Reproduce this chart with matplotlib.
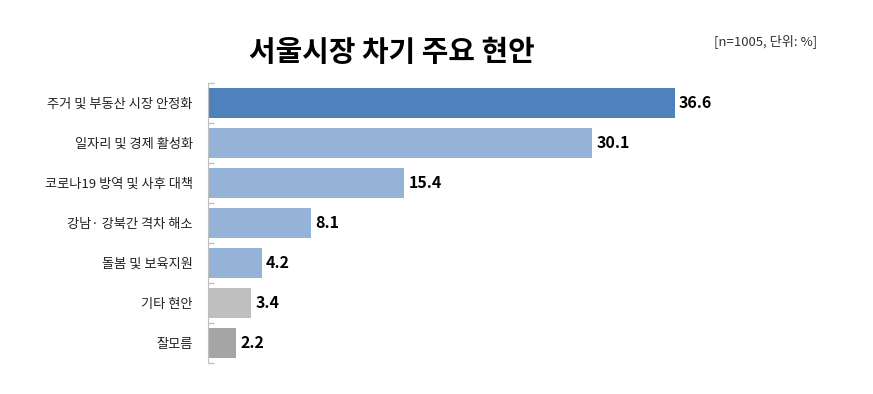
import matplotlib
matplotlib.use("Agg")
import matplotlib.pyplot as plt

plt.rcParams['font.family'] = ['Noto Sans CJK KR', 'DejaVu Sans']

categories = ["주거 및 부동산 시장 안정화", "일자리 및 경제 활성화", "코로나19 방역 및 사후 대책",
              "강남· 강북간 격차 해소", "돌봄 및 보육지원", "기타 현안", "잘모름"]
values = [36.6, 30.1, 15.4, 8.1, 4.2, 3.4, 2.2]
colors = ["#4F81BD", "#95B3D7", "#95B3D7", "#95B3D7", "#95B3D7", "#BFBFBF", "#A5A5A5"]

fig = plt.figure(figsize=(8.73, 3.94), dpi=100)
ax = fig.add_axes([208/873, 31/394, 510/873, 280/394])

y = list(range(len(categories)))
ax.barh(y, values, height=0.75, color=colors)
ax.set_ylim(len(categories) - 0.5, -0.5)
ax.set_xlim(0, 40)

for yi, v in zip(y, values):
    ax.text(v + 0.35, yi, f"{v}", va='center', ha='left', fontsize=11.5, fontweight='bold', color='black')

ax.set_yticks(y)
ax.set_yticklabels(categories, fontsize=9.5, color='#222222')
ax.tick_params(axis='y', which='major', length=0, pad=11)
ax.set_yticks([i - 0.5 for i in range(len(categories) + 1)], minor=True)
ax.tick_params(axis='y', which='minor', length=4, direction='in', color='#BFBFBF', width=1)
ax.set_xticks([])
for s in ['top', 'right', 'bottom']:
    ax.spines[s].set_visible(False)
ax.spines['left'].set_color('#BFBFBF')

fig.text(392/873, 1 - 52/394, "서울시장 차기 주요 현안", ha='center', va='center', fontsize=20.8, fontweight='bold')
fig.text(766/873, 1 - 41/394, "[n=1005, 단위: %]", ha='center', va='center', fontsize=9.5, color='#333333')

fig.savefig("out.png", dpi=100)
